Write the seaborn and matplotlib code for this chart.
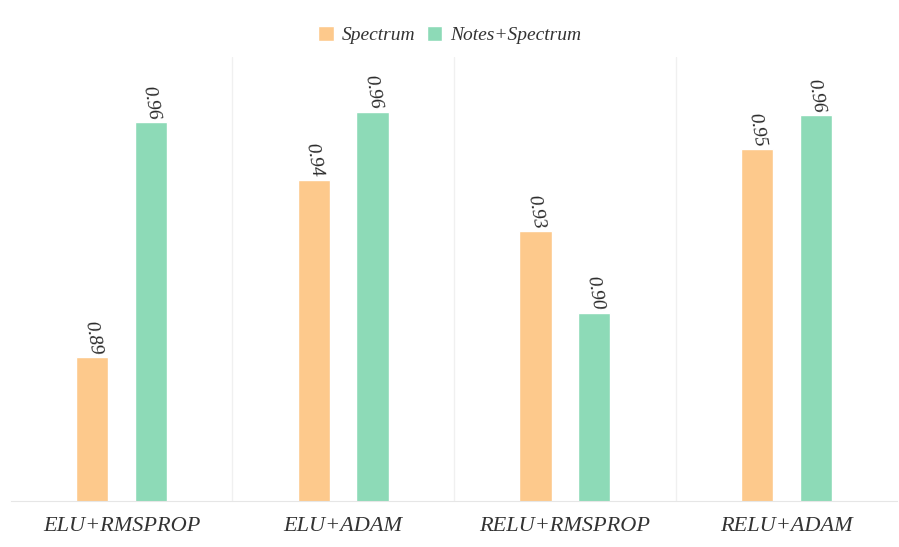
import pandas as pd
import matplotlib.pyplot as plt
import seaborn as sns
from matplotlib.patches import Patch

categories = ['ELU+RMSPROP', 'ELU+ADAM', 'RELU+RMSPROP', 'RELU+ADAM']
series = ['Spectrum', 'Notes+Spectrum']
spectrum = [0.890, 0.942, 0.927, 0.951]
notes_spectrum = [0.959, 0.962, 0.903, 0.961]
colors = ['#FDC98C', '#8DDAB7']

df = pd.DataFrame({
    'model': categories * 2,
    'series': [series[0]] * 4 + [series[1]] * 4,
    'acc': spectrum + notes_spectrum,
})

sns.set_style('white')
plt.rcParams['font.family'] = ['Liberation Serif', 'DejaVu Serif']

fig, ax = plt.subplots(figsize=(8.99, 5.47), dpi=100)
sns.barplot(data=df, x='model', y='acc', hue='series', palette=colors,
            width=0.53, gap=0.45, ax=ax, legend=False, saturation=1)

# value labels on top of each bar
for cont in ax.containers:
    ax.bar_label(cont, fmt='%.2f', rotation=-80, padding=1,
                 fontsize=14, fontstyle='italic', color='#2a2a2a')

ax.set_ylim(0.848, 0.978)
ax.set_xlim(-0.5, 3.5)
ax.set_yticks([])
ax.set_xlabel('')
ax.set_ylabel('')
ax.tick_params(axis='x', length=0, pad=12)
for lbl in ax.get_xticklabels():
    lbl.set_fontsize(16)
    lbl.set_fontstyle('italic')
    lbl.set_color('#333333')

for x in [0.5, 1.5, 2.5]:
    ax.axvline(x, color='#f0f0f0', lw=1, zorder=0)

for s in ['top', 'left', 'right']:
    ax.spines[s].set_visible(False)
ax.spines['bottom'].set_color('#e6e6e6')

handles = [Patch(facecolor=c, label=s) for c, s in zip(colors, series)]
fig.legend(handles=handles, loc='upper center', ncol=2, frameon=False,
           bbox_to_anchor=(0.5, 0.985), prop={'style': 'italic', 'size': 14},
           handlelength=0.8, handleheight=0.8, handletextpad=0.4, columnspacing=0.6,
           labelcolor='#333333')

plt.subplots_adjust(left=0.012, right=0.998, top=0.895, bottom=0.085)
plt.savefig('out.png')
